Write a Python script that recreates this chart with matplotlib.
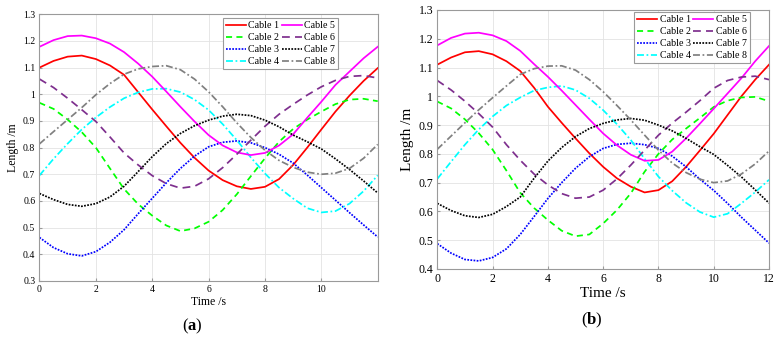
import matplotlib
matplotlib.use("Agg")
import matplotlib.pyplot as plt
from matplotlib.ticker import FormatStrFormatter

plt.rcParams['font.family'] = 'serif'
plt.rcParams['font.serif'] = ['Liberation Serif', 'DejaVu Serif']
plt.rcParams['mathtext.fontset'] = 'custom'
plt.rcParams['mathtext.rm'] = 'Liberation Serif'
plt.rcParams['mathtext.bf'] = 'Liberation Serif:bold'

# tempo (s), mesmo para os dois casos
tempo = [0, 0.5, 1, 1.5, 2, 2.5, 3, 3.5, 4, 4.5, 5, 5.5, 6, 6.5, 7, 7.5,
         8, 8.5, 9, 9.5, 10, 10.5, 11, 11.5, 12]

nomes = ["Cable 1", "Cable 2", "Cable 3", "Cable 4",
         "Cable 5", "Cable 6", "Cable 7", "Cable 8"]

# ---- caso (a) ----
a_cabo1 = [1.100, 1.125, 1.141, 1.145, 1.132, 1.108, 1.073, 1.008, 0.943, 0.880, 0.818, 0.762, 0.714,
           0.678, 0.655, 0.645, 0.653, 0.682, 0.735, 0.800, 0.868, 0.935, 0.995, 1.050, 1.098]
a_cabo2 = [0.968, 0.945, 0.905, 0.858, 0.800, 0.722, 0.645, 0.588, 0.545, 0.508, 0.487, 0.497, 0.522,
           0.566, 0.625, 0.693, 0.760, 0.822, 0.870, 0.905, 0.935, 0.963, 0.980, 0.983, 0.974]
a_cabo3 = [0.463, 0.425, 0.402, 0.394, 0.410, 0.445, 0.492, 0.552, 0.610, 0.668, 0.722, 0.768, 0.803,
           0.820, 0.825, 0.818, 0.800, 0.775, 0.742, 0.697, 0.650, 0.603, 0.556, 0.510, 0.465]
a_cabo4 = [0.696, 0.758, 0.815, 0.868, 0.913, 0.952, 0.985, 1.007, 1.020, 1.021, 1.008, 0.980, 0.941,
           0.888, 0.828, 0.763, 0.703, 0.650, 0.609, 0.573, 0.557, 0.562, 0.590, 0.637, 0.696]
a_cabo5 = [1.178, 1.203, 1.218, 1.220, 1.210, 1.190, 1.158, 1.115, 1.066, 1.010, 0.953, 0.898, 0.847,
           0.808, 0.782, 0.772, 0.780, 0.808, 0.850, 0.912, 0.972, 1.035, 1.085, 1.135, 1.178]
a_cabo6 = [1.057, 1.025, 0.985, 0.942, 0.898, 0.840, 0.780, 0.735, 0.695, 0.665, 0.648, 0.655, 0.683,
           0.725, 0.775, 0.828, 0.880, 0.925, 0.962, 0.997, 1.028, 1.052, 1.067, 1.070, 1.061]
a_cabo7 = [0.628, 0.605, 0.587, 0.580, 0.590, 0.615, 0.655, 0.710, 0.766, 0.815, 0.853, 0.882, 0.903,
           0.918, 0.925, 0.920, 0.903, 0.878, 0.847, 0.822, 0.795, 0.758, 0.718, 0.675, 0.630]
a_cabo8 = [0.814, 0.860, 0.905, 0.950, 0.998, 1.040, 1.075, 1.095, 1.104, 1.107, 1.092, 1.057, 1.009,
           0.953, 0.893, 0.838, 0.790, 0.752, 0.726, 0.708, 0.700, 0.704, 0.722, 0.760, 0.812]

# ---- caso (b) ----
b_cabo1 = [1.110, 1.135, 1.153, 1.157, 1.146, 1.122, 1.088, 1.030, 0.964, 0.908, 0.854, 0.802, 0.755,
           0.715, 0.686, 0.666, 0.674, 0.705, 0.755, 0.812, 0.870, 0.935, 1.000, 1.058, 1.110]
b_cabo2 = [0.982, 0.958, 0.920, 0.872, 0.815, 0.742, 0.665, 0.612, 0.570, 0.533, 0.514, 0.520, 0.558,
           0.605, 0.663, 0.738, 0.800, 0.850, 0.888, 0.925, 0.963, 0.985, 0.996, 0.998, 0.983]
b_cabo3 = [0.488, 0.455, 0.433, 0.428, 0.440, 0.470, 0.520, 0.582, 0.645, 0.700, 0.750, 0.790, 0.819,
           0.833, 0.837, 0.832, 0.819, 0.792, 0.755, 0.712, 0.673, 0.628, 0.580, 0.535, 0.490]
b_cabo4 = [0.713, 0.773, 0.832, 0.885, 0.930, 0.968, 0.996, 1.020, 1.031, 1.036, 1.022, 0.993, 0.952,
           0.903, 0.848, 0.783, 0.721, 0.672, 0.630, 0.598, 0.580, 0.592, 0.628, 0.667, 0.710]
b_cabo5 = [1.177, 1.203, 1.218, 1.221, 1.212, 1.192, 1.158, 1.112, 1.068, 1.020, 0.970, 0.920, 0.871,
           0.830, 0.797, 0.776, 0.779, 0.808, 0.854, 0.905, 0.957, 1.010, 1.063, 1.122, 1.175]
b_cabo6 = [1.055, 1.022, 0.983, 0.940, 0.893, 0.832, 0.778, 0.730, 0.692, 0.662, 0.646, 0.650, 0.674,
           0.713, 0.761, 0.813, 0.865, 0.907, 0.945, 0.985, 1.028, 1.055, 1.067, 1.070, 1.058]
b_cabo7 = [0.628, 0.603, 0.585, 0.579, 0.590, 0.617, 0.650, 0.715, 0.775, 0.822, 0.860, 0.888, 0.906,
           0.918, 0.923, 0.917, 0.900, 0.880, 0.854, 0.825, 0.798, 0.760, 0.720, 0.675, 0.629]
b_cabo8 = [0.816, 0.862, 0.908, 0.953, 0.995, 1.036, 1.076, 1.096, 1.105, 1.106, 1.091, 1.058, 1.016,
           0.968, 0.918, 0.865, 0.813, 0.768, 0.735, 0.712, 0.700, 0.706, 0.730, 0.765, 0.810]

estilos = [
    dict(color="#ff0000", linestyle="-"),
    dict(color="#00ff00", linestyle=(0, (3.5, 2.5))),
    dict(color="#0000ff", linestyle=(0, (1, 0.8))),
    dict(color="#00ffff", linestyle=(0, (4, 1.5, 1, 1.5))),
    dict(color="#ff00ff", linestyle="-"),
    dict(color="#7e2f8e", linestyle=(0, (4.5, 3))),
    dict(color="#000000", linestyle=(0, (1, 0.8))),
    dict(color="#808080", linestyle=(0, (4, 1.5, 1, 1.5))),
]


def plotar_painel(ax, cabos, ylim, yticks, xticks, f_tick, f_label, leg_pos, f_leg):
    for serie, nome, est in zip(cabos, nomes, estilos):
        ax.plot(tempo, serie, label=nome, linewidth=1.25, **est)
    ax.set_xlim(0, 12)
    ax.set_ylim(*ylim)
    ax.set_xticks(xticks)
    ax.set_yticks(yticks)
    ax.yaxis.set_major_formatter(FormatStrFormatter('%g'))
    ax.grid(True, color="#e3e3e3", linewidth=0.6)
    ax.set_axisbelow(True)
    for s in ax.spines.values():
        s.set_color("#9a9a9a")
        s.set_linewidth(0.8)
    ax.tick_params(direction="in", length=2, color="#9a9a9a", labelsize=f_tick, pad=3)
    ax.set_xlabel("Time /s", fontsize=f_label, labelpad=1)
    ax.set_ylabel("Length /m", fontsize=f_label, labelpad=3)
    leg = ax.legend(ncol=2, loc="upper left", bbox_to_anchor=leg_pos, fontsize=f_leg,
                    handlelength=2.0, handletextpad=0.25, columnspacing=0.25, labelspacing=0.3,
                    borderpad=0.3, borderaxespad=0, fancybox=False, framealpha=1)
    leg.get_frame().set_edgecolor("#9a9a9a")
    leg.get_frame().set_linewidth(0.8)


fig = plt.figure(figsize=(7.82, 3.42), dpi=100)
ax_a = fig.add_axes([0.0505, 0.1784, 0.4325, 0.780])
ax_b = fig.add_axes([0.5592, 0.2135, 0.4242, 0.7573])

plotar_painel(ax_a, [a_cabo1, a_cabo2, a_cabo3, a_cabo4, a_cabo5, a_cabo6, a_cabo7, a_cabo8],
              (0.3, 1.3), [0.3, 0.4, 0.5, 0.6, 0.7, 0.8, 0.9, 1.0, 1.1, 1.2, 1.3],
              [0, 2, 4, 6, 8, 10], 7, 8.5, (0.542, 0.985), 7.2)
plotar_painel(ax_b, [b_cabo1, b_cabo2, b_cabo3, b_cabo4, b_cabo5, b_cabo6, b_cabo7, b_cabo8],
              (0.4, 1.3), [0.4, 0.5, 0.6, 0.7, 0.8, 0.9, 1.0, 1.1, 1.2, 1.3],
              [0, 2, 4, 6, 8, 10, 12], 8.5, 11, (0.593, 0.991), 7.2)

fig.text(0.246, 0.047, r"($\mathbf{a}$)", ha="center", va="center", fontsize=12)
fig.text(0.757, 0.062, r"($\mathbf{b}$)", ha="center", va="center", fontsize=12)

fig.savefig("out.png", dpi=100)
